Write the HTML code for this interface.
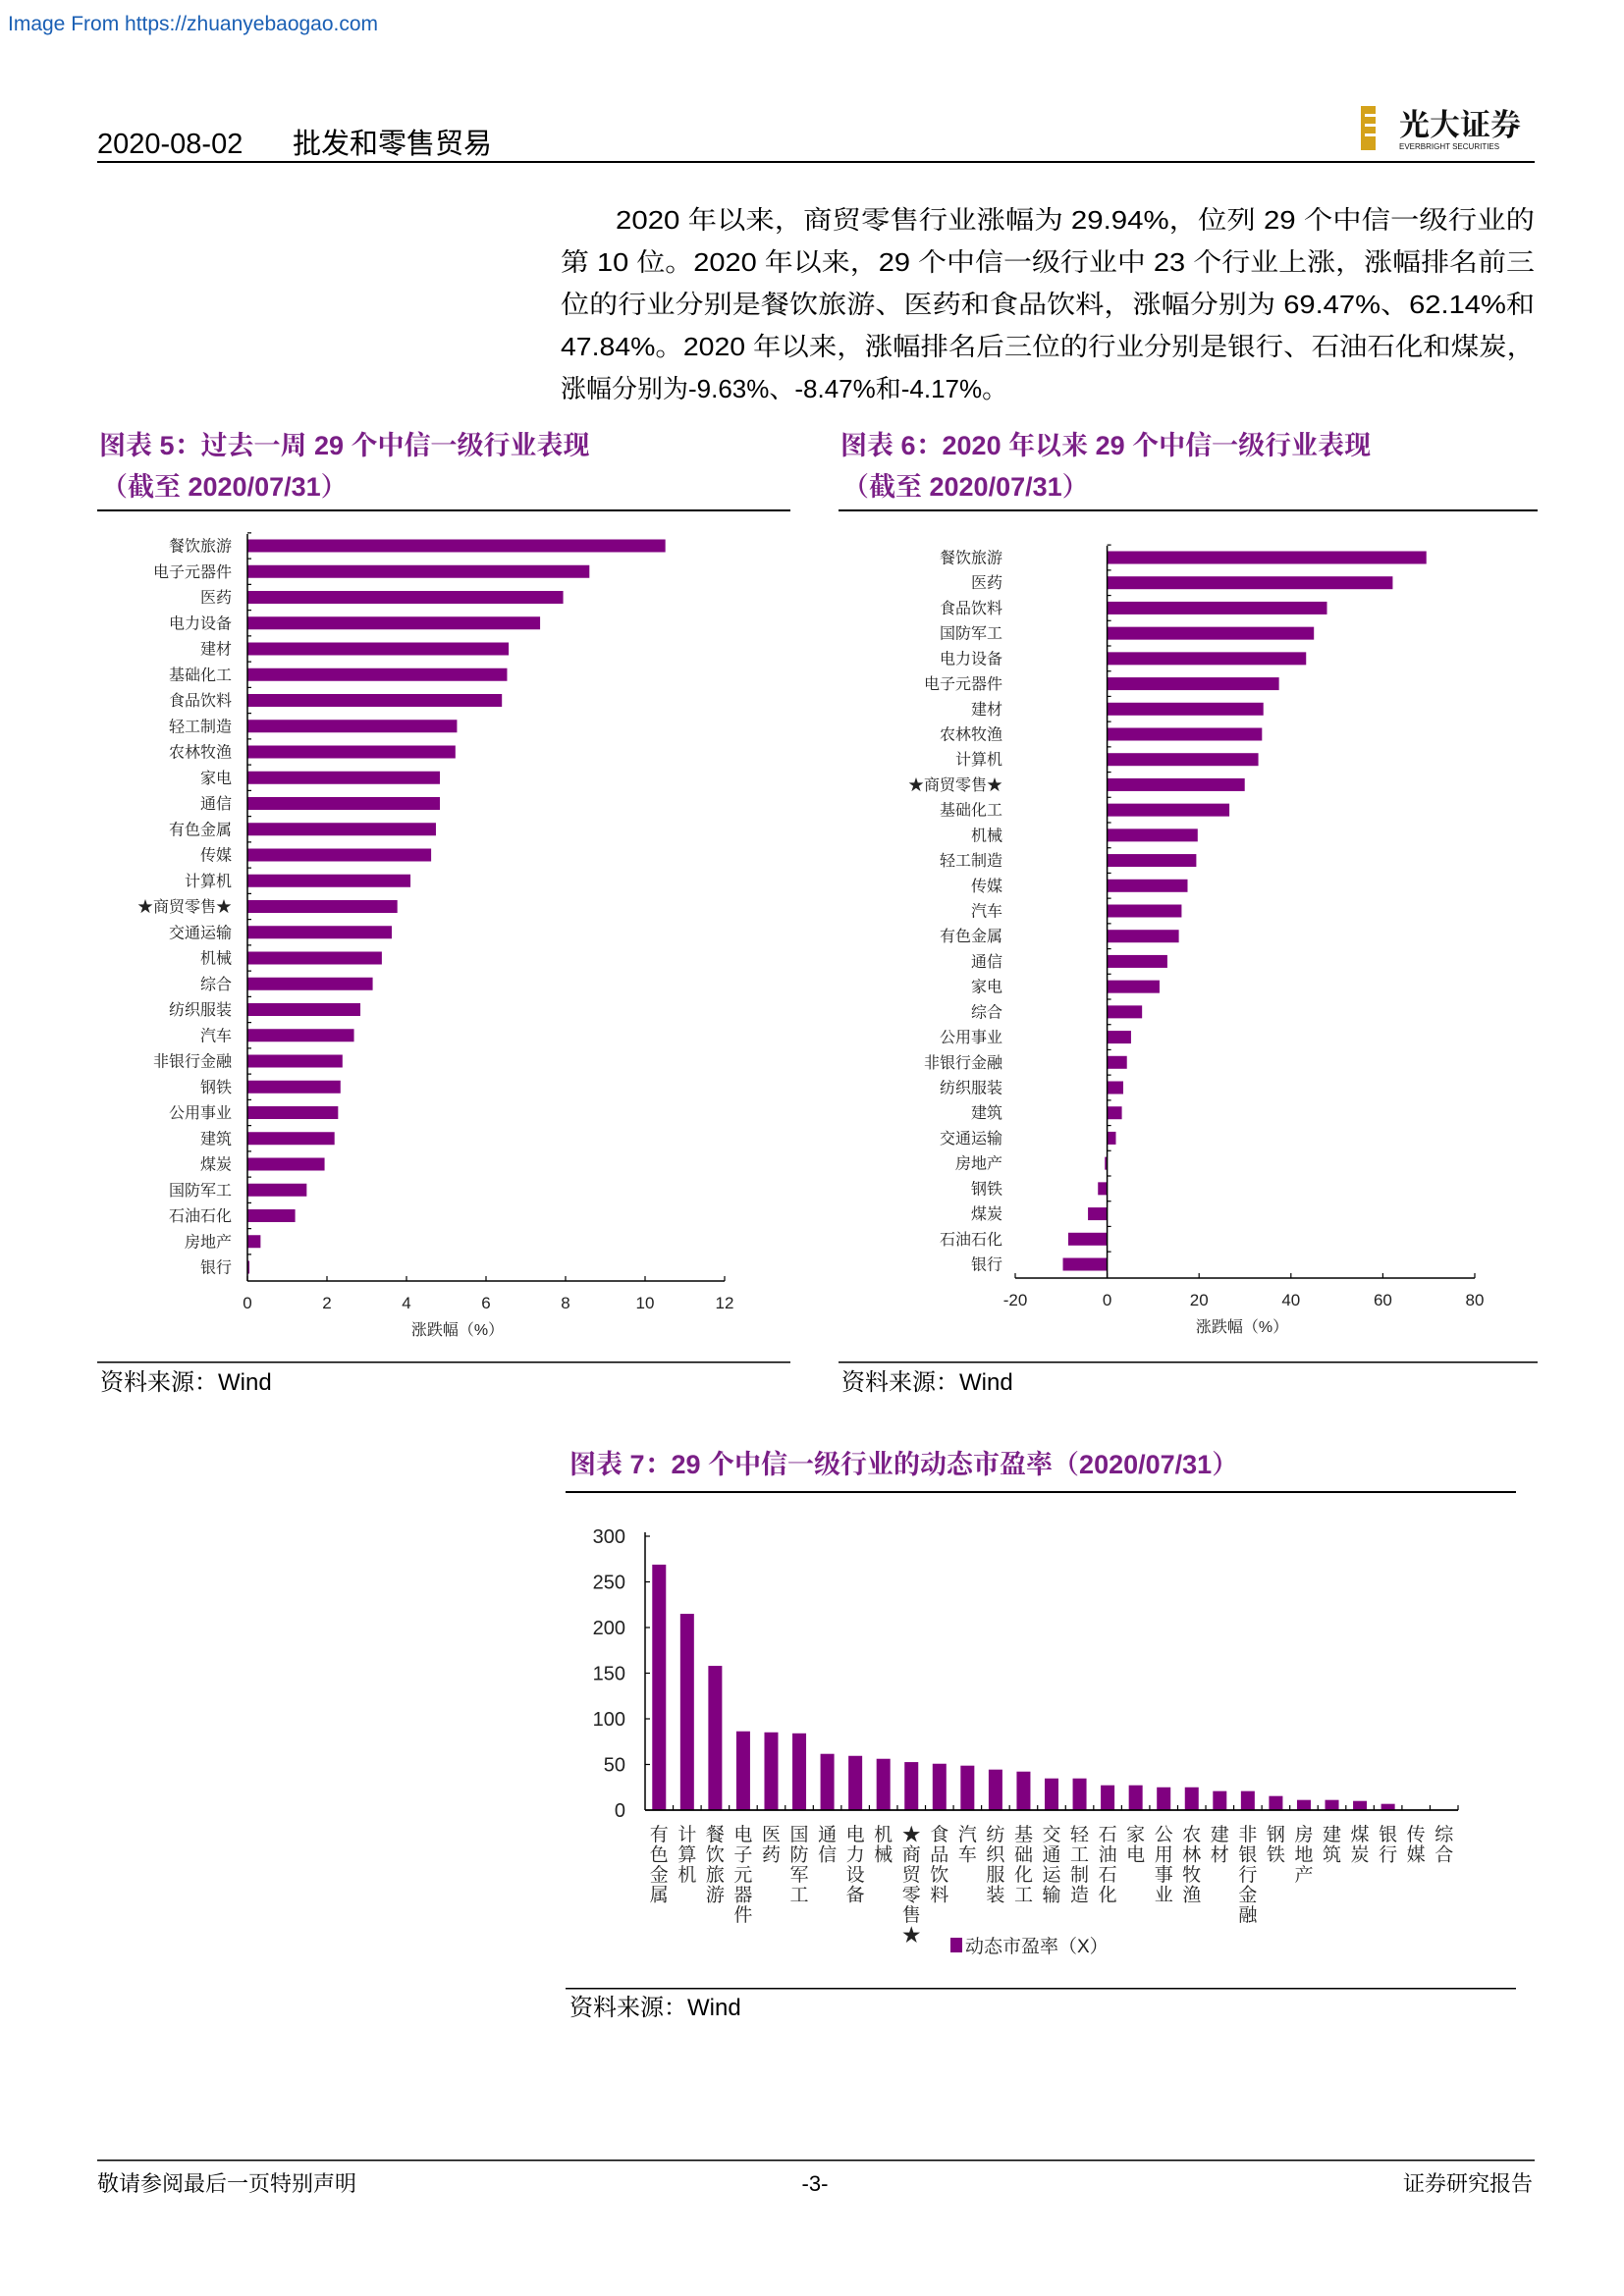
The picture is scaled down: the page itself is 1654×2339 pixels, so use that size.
<!DOCTYPE html>
<html><head><meta charset="utf-8"><style>
html,body{margin:0;padding:0;background:#fff;}
svg{display:block;font-family:"Liberation Sans","Noto Sans CJK SC",sans-serif;}
.serif{font-family:"Liberation Sans","Noto Serif CJK SC",serif;}
</style></head><body>
<svg id="page" width="1654" height="2339" viewBox="0 0 1654 2339" xmlns="http://www.w3.org/2000/svg">
<text x="8" y="31" font-size="21" fill="#1a5fb4">Image From https://zhuanyebaogao.com</text>
<text x="99" y="156" font-size="29" fill="#000">2020-08-02</text>
<text x="298" y="156" font-size="29" fill="#000">批发和零售贸易</text>
<g>
<rect x="1386" y="108" width="15" height="45" fill="#d4a21a"/>
<rect x="1390" y="116" width="11" height="3" fill="#fff"/><rect x="1390" y="126" width="11" height="3" fill="#fff"/><rect x="1390" y="136" width="11" height="3" fill="#fff"/>
<text x="1425" y="138" font-size="31" font-weight="bold" class="serif" fill="#111">光大证券</text>
<text x="1425" y="152" font-size="8" fill="#111">EVERBRIGHT SECURITIES</text>
</g>
<rect x="99" y="164" width="1464" height="2" fill="#000"/>
<g class="serif" font-size="26" fill="#000">
<text x="627" y="233" textLength="936" lengthAdjust="spacingAndGlyphs">2020 年以来，商贸零售行业涨幅为 29.94%，位列 29 个中信一级行业的</text>
<text x="571" y="276" textLength="992" lengthAdjust="spacingAndGlyphs">第 10 位。2020 年以来，29 个中信一级行业中 23 个行业上涨，涨幅排名前三</text>
<text x="571" y="319" textLength="992" lengthAdjust="spacingAndGlyphs">位的行业分别是餐饮旅游、医药和食品饮料，涨幅分别为 69.47%、62.14%和</text>
<text x="571" y="362" textLength="992" lengthAdjust="spacingAndGlyphs">47.84%。2020 年以来，涨幅排名后三位的行业分别是银行、石油石化和煤炭，</text>
<text x="571" y="405">涨幅分别为-9.63%、-8.47%和-4.17%。</text>
</g>
<g fill="#7a1f86" font-size="27" font-weight="bold" class="serif">
<text x="101" y="463">图表 5：过去一周 29 个中信一级行业表现</text>
<text x="103" y="505">（截至 2020/07/31）</text>
<text x="856" y="463">图表 6：2020 年以来 29 个中信一级行业表现</text>
<text x="858" y="505">（截至 2020/07/31）</text>
<text x="580" y="1501">图表 7：29 个中信一级行业的动态市盈率（2020/07/31）</text>
</g>
<rect x="99" y="519" width="706" height="2" fill="#000"/>
<rect x="854" y="519" width="712" height="2" fill="#000"/>
<rect x="99" y="1387" width="706" height="1.5" fill="#000"/>
<rect x="854" y="1387" width="712" height="1.5" fill="#000"/>
<text x="102" y="1416" font-size="24" class="serif">资料来源：Wind</text>
<text x="857" y="1416" font-size="24" class="serif">资料来源：Wind</text>
<rect x="576" y="1519" width="968" height="2" fill="#000"/>
<rect x="576" y="2025" width="968" height="1.5" fill="#000"/>
<text x="580" y="2053" font-size="24" class="serif">资料来源：Wind</text>
<rect x="99" y="2200" width="1464" height="1.5" fill="#000"/>
<text x="99" y="2232" font-size="22" class="serif">敬请参阅最后一页特别声明</text>
<text x="830" y="2232" font-size="22" text-anchor="middle">-3-</text>
<text x="1561" y="2232" font-size="22" class="serif" text-anchor="end">证券研究报告</text>
<g id="c5"></g><g id="c6"></g><g id="c7"></g>
</svg>
<script>
const c5Categories=["餐饮旅游","电子元器件","医药","电力设备","建材","基础化工","食品饮料","轻工制造","农林牧渔","家电","通信","有色金属","传媒","计算机","★商贸零售★","交通运输","机械","综合","纺织服装","汽车","非银行金融","钢铁","公用事业","建筑","煤炭","国防军工","石油石化","房地产","银行"];
const c5Values=[10.51,8.6,7.94,7.36,6.57,6.53,6.4,5.27,5.23,4.84,4.84,4.74,4.62,4.1,3.77,3.63,3.38,3.15,2.84,2.68,2.39,2.34,2.28,2.19,1.94,1.49,1.2,0.33,0.05];
const c5Ticks=[0,2,4,6,8,10,12];
const c6Categories=["餐饮旅游","医药","食品饮料","国防军工","电力设备","电子元器件","建材","农林牧渔","计算机","★商贸零售★","基础化工","机械","轻工制造","传媒","汽车","有色金属","通信","家电","综合","公用事业","非银行金融","纺织服装","建筑","交通运输","房地产","钢铁","煤炭","石油石化","银行"];
const c6Values=[69.47,62.14,47.84,45.0,43.3,37.4,34.0,33.7,32.9,29.94,26.6,19.7,19.4,17.5,16.2,15.6,13.1,11.4,7.6,5.2,4.3,3.5,3.2,1.9,-0.5,-2.0,-4.17,-8.47,-9.63];
const c6Ticks=[-20,0,20,40,60,80];
const c7Categories=["有色金属","计算机","餐饮旅游","电子元器件","医药","国防军工","通信","电力设备","机械","★商贸零售★","食品饮料","汽车","纺织服装","基础化工","交通运输","轻工制造","石油石化","家电","公用事业","农林牧渔","建材","非银行金融","钢铁","房地产","建筑","煤炭","银行","传媒","综合"];
const c7Values=[268.9,215,158,86.3,85.2,84.1,61.6,59.4,56.2,52.6,50.8,48.7,44.4,42.2,34.7,34.7,27.2,27.2,25,25,20.8,20.8,15.4,11.1,11.1,10,6.8,0,0];
const c7Ticks=[0,50,100,150,200,250,300];
const NS="http://www.w3.org/2000/svg";
function mk(p,tag,a,txt){const e=document.createElementNS(NS,tag);for(const k in a)e.setAttribute(k,a[k]);if(txt!==undefined)e.textContent=txt;p.appendChild(e);return e;}
const PURPLE="#800080";
function hbar(gid,cats,vals,ticks,x0px,x1px,yTop,yFirst,yLast,yAxis,labelRight,titleX,titleY,prefix){
  const g=document.getElementById(gid);
  const vmin=ticks[0],vmax=ticks[ticks.length-1];
  const sx=v=>x0px+(v-vmin)/(vmax-vmin)*(x1px-x0px);
  const step=(yLast-yFirst)/(cats.length-1);
  const sy=i=>yFirst+i*step;
  const zx=sx(0);
  cats.forEach((c,i)=>{
    const v=vals[i];const a=sx(Math.min(0,v)),b=sx(Math.max(0,v));
    const r=mk(g,'rect',{x:a,y:sy(i)-6.5,width:Math.max(b-a,1),height:13,fill:PURPLE});
    
    
    const t=mk(g,'text',{x:labelRight,y:sy(i)+5.5,'font-size':16,'text-anchor':'end',fill:'#222',class:'serif'},c);
    
    
    mk(g,'line',{x1:zx,x2:zx+4,y1:sy(i)-step/2,y2:sy(i)-step/2,stroke:'#000','stroke-width':1.2});
  });
  const ya=mk(g,'line',{x1:zx,x2:zx,y1:yTop,y2:yAxis,stroke:'#000','stroke-width':1.5});
  
  
  const xa=mk(g,'line',{x1:x0px,x2:x1px,y1:yAxis,y2:yAxis,stroke:'#000','stroke-width':1.5});
  
  
  ticks.forEach(v=>{
    mk(g,'line',{x1:sx(v),x2:sx(v),y1:yAxis,y2:yAxis-5,stroke:'#000','stroke-width':1.2});
    const t=mk(g,'text',{x:sx(v),y:yAxis+28,'font-size':17,'text-anchor':'middle',fill:'#222'},String(v));
    
    
  });
  const tt=mk(g,'text',{x:titleX,y:titleY,'font-size':16,'text-anchor':'middle',fill:'#222',class:'serif'},'涨跌幅（%）');
  
  
}
hbar('c5',c5Categories,c5Values,c5Ticks,252,738,544,556,1291,1305,236,466,1360,'chart5');
hbar('c6',c6Categories,c6Values,c6Ticks,1034,1502,556,568,1288,1302,1021,1265,1357,'chart6');
(function(){
  const g=document.getElementById('c7');
  const x0=657,x1=1485,y0=1844,y1=1565;
  const vmax=c7Ticks[c7Ticks.length-1];
  const sy=v=>y0-(v/vmax)*(y0-y1);
  const slot=(x1-x0)/c7Categories.length;
  c7Categories.forEach((c,i)=>{
    const cx=x0+slot*(i+0.5);
    const r=mk(g,'rect',{x:cx-7,y:sy(c7Values[i]),width:14,height:y0-sy(c7Values[i]),fill:PURPLE});
    
    
    mk(g,'line',{x1:x0+slot*(i+1),x2:x0+slot*(i+1),y1:y0,y2:y0-5,stroke:'#000','stroke-width':1.2});
    const t=mk(g,'text',{'font-size':19,'text-anchor':'middle',fill:'#222',class:'serif'});
    
    
    [...c].forEach((ch,k)=>{mk(t,'tspan',{x:cx,y:1875+k*20.5},ch);});
  });
  c7Ticks.forEach(v=>{
    mk(g,'line',{x1:x0,x2:x0+5,y1:sy(v),y2:sy(v),stroke:'#000','stroke-width':1.2});
    const t=mk(g,'text',{x:637,y:sy(v)+7,'font-size':20,'text-anchor':'end',fill:'#222'},String(v));
    
    
  });
  const ya=mk(g,'line',{x1:x0,x2:x0,y1:y1-4,y2:y0,stroke:'#000','stroke-width':1.5});
  
  
  const xa=mk(g,'line',{x1:x0,x2:x1,y1:y0,y2:y0,stroke:'#000','stroke-width':1.8});
  
  
  const lg=mk(g,'g',{});
  
  
  mk(lg,'rect',{x:968,y:1974,width:12,height:15,fill:PURPLE});
  mk(lg,'text',{x:983,y:1989,'font-size':19,fill:'#222',class:'serif'},'动态市盈率（X）');
})();
</script>
</body></html>
